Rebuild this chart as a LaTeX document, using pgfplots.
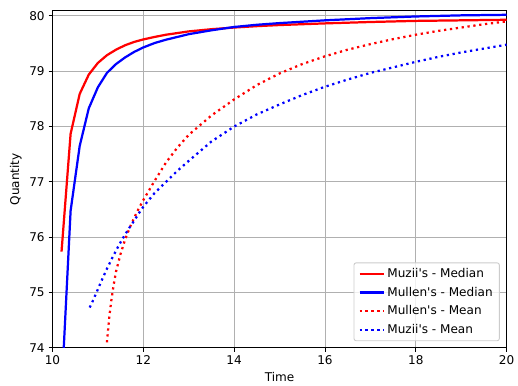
\documentclass[border=0pt]{standalone}
\usepackage{fontspec}
\setmainfont{DejaVu Sans}
\usepackage{pgfplots}
\pgfplotsset{compat=1.18}
\definecolor{gridgray}{HTML}{B0B0B0}
\definecolor{legedge}{HTML}{CCCCCC}
\definecolor{mred}{HTML}{FF0000}
\definecolor{mblue}{HTML}{0000FF}
\newcommand{\fs}{\fontsize{10.8}{13}\selectfont}
\newcommand{\q}{\textquotesingle}
\begin{document}
\begin{tikzpicture}
\begin{axis}[
 scale only axis, width=407pt, height=302pt,
 xmin=10, xmax=20, ymin=74, ymax=80.09,
 xtick={10,12,14,16,18,20}, ytick={74,75,76,77,78,79,80},
 grid=major, major grid style={color=gridgray, line width=0.8pt},
 axis line style={line width=0.8pt},
 tick align=outside, tick pos=left, major tick length=3.5pt,
 every tick/.style={black, line width=0.8pt},
 /pgf/number format/assume math mode=true,
 ticklabel style={font=\fs},
 label style={font=\fs},
 xlabel=Time, ylabel=Quantity,
 legend style={at={(0.985,0.02)}, anchor=south east, draw=legedge, line width=0.8pt, rounded corners=2pt, fill=white, fill opacity=0.8, text opacity=1, font=\fs, row sep=3pt, inner xsep=4pt, inner ysep=3pt},
 legend cell align=left,
 legend image code/.code={\draw[#1] (0pt,0pt) -- (22pt,0pt);},
]
\addplot[mred, line width=2pt] coordinates {
(10.2,75.74) (10.4,77.87) (10.6,78.59) (10.8,78.94) (11.0,79.15) (11.2,79.29)
(11.4,79.39) (11.6,79.47) (11.8,79.53) (12.0,79.575) (12.25,79.62) (12.5,79.66)
(13.0,79.72) (13.5,79.76) (14.0,79.79) (14.5,79.815) (15.0,79.835) (16.0,79.865)
(17.0,79.89) (18.0,79.91) (19.0,79.92) (20.0,79.93)};
\addlegendentry{Muzii\q s - Median}
\addplot[mblue, line width=2pt] coordinates {
(10.2,73.2) (10.4,76.48) (10.6,77.65) (10.8,78.33) (11.0,78.71) (11.2,78.97)
(11.4,79.13) (11.6,79.25) (11.8,79.35) (12.0,79.43) (12.25,79.51) (12.5,79.57)
(13.0,79.67) (13.5,79.74) (14.0,79.80) (14.5,79.84) (15.0,79.87) (16.0,79.92)
(17.0,79.96) (18.0,79.99) (19.0,80.01) (20.0,80.02)};
\addlegendentry{Mullen\q s - Median}
\addplot[mred, line width=2pt, dash pattern=on 2pt off 3.3pt] coordinates {
(11.2,74.10) (11.25,74.55) (11.3,74.88) (11.35,75.15) (11.4,75.38) (11.5,75.70)
(11.6,75.96) (11.7,76.17) (11.8,76.35) (11.9,76.52) (12.0,76.67) (12.25,77.02)
(12.5,77.35) (12.75,77.62) (13.0,77.85) (13.5,78.20) (14.0,78.49) (14.5,78.75)
(15.0,78.96) (15.5,79.13) (16.0,79.27) (16.5,79.39) (17.0,79.49) (17.5,79.58)
(18.0,79.66) (18.5,79.73) (19.0,79.79) (19.5,79.85) (20.0,79.90)};
\addlegendentry{Mullen\q s - Mean}
\addplot[mblue, line width=2pt, dash pattern=on 2pt off 3.3pt] coordinates {
(10.82,74.73) (10.9,74.87) (11.0,75.06) (11.1,75.25) (11.2,75.43) (11.3,75.60)
(11.4,75.76) (11.5,75.91) (11.6,76.05) (11.7,76.18) (11.8,76.30) (11.9,76.43)
(12.0,76.55) (12.25,76.80) (12.5,77.0) (12.75,77.20) (13.0,77.38) (13.5,77.73)
(14.0,78.00) (14.5,78.22) (15.0,78.40) (15.5,78.57) (16.0,78.72) (16.5,78.85)
(17.0,78.97) (17.5,79.07) (18.0,79.17) (18.5,79.26) (19.0,79.34) (19.5,79.41)
(20.0,79.48)};
\addlegendentry{Muzii\q s - Mean}
\end{axis}
\path ([xshift=-47pt,yshift=-34pt]current axis.south west) rectangle ([xshift=6.2pt,yshift=9.8pt]current axis.north east);
\end{tikzpicture}
\end{document}
